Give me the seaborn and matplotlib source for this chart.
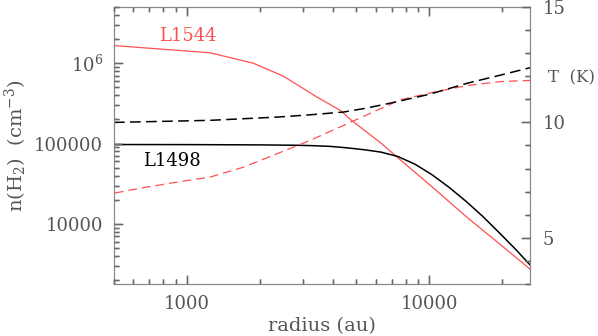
import numpy as np
import seaborn as sns
import matplotlib.pyplot as plt
from matplotlib.transforms import blended_transform_factory
from matplotlib.ticker import FixedLocator, NullFormatter, MultipleLocator, LogLocator

# density profiles n(H2) in cm^-3 vs radius in au
r_l1544 = [500, 1245, 1880, 2500, 3435, 4285, 4720, 6275, 7240, 10000, 14350, 20000, 26000]
n_l1544 = [1.66e6, 1.35e6, 1.0e6, 6.9e5, 3.8e5, 2.6e5, 2.0e5, 1.03e5, 7.1e4, 3.1e4, 1.2e4, 5.3e3, 2.75e3]

r_l1498 = [500, 1000, 2000, 2818, 3311, 3890, 4571, 5370, 6310, 7413, 8710, 10233,
           12023, 14125, 16596, 19498, 22909, 26000]
n_l1498 = [9.75e4, 9.73e4, 9.65e4, 9.55e4, 9.44e4, 9.25e4, 8.87e4, 8.41e4, 7.85e4, 6.92e4,
           5.56e4, 4.12e4, 2.88e4, 1.93e4, 1.245e4, 7.7e3, 4.7e3, 3.1e3]

# temperature profiles (K)
rT_l1498 = [500, 1245, 2350, 3220, 4425, 5500, 7000, 10000, 14350, 19630, 26000]
T_l1498 = [10.0, 10.09, 10.23, 10.33, 10.45, 10.62, 10.85, 11.22, 11.7, 12.05, 12.37]

rT_l1544 = [504, 659, 906, 1245, 1710, 2350, 3220, 4425, 6000, 7590, 10400, 14350, 19630, 26000]
T_l1544 = [6.94, 7.17, 7.41, 7.63, 8.06, 8.64, 9.22, 9.87, 10.5, 10.98, 11.31, 11.6, 11.77, 11.82]

sns.set_style("ticks")
plt.rcParams['font.family'] = ['DejaVu Serif']
plt.rcParams['mathtext.fontset'] = 'dejavuserif'

txt = '#555555'
tick_col = '#6a6a6a'
edge = '#8a8a8a'
red = '#ff5050'


def style_ticks(a):
    a.tick_params(which='both', direction='in', color=tick_col, width=1.0, length=6.5)
    a.tick_params(which='minor', length=3.5)
    a.tick_params(which='both', labelcolor=txt, labelsize=13)
    for s in a.spines.values():
        s.set_color(edge)


fig = plt.figure(figsize=(5.98, 3.36), dpi=100)
ax = fig.add_axes([0.1906, 0.155, 0.6957, 0.824])

sns.lineplot(x=r_l1544, y=n_l1544, ax=ax, color=red, lw=0.9)
sns.lineplot(x=r_l1498, y=n_l1498, ax=ax, color='black', lw=1.1)
ax.set_xscale('log')
ax.set_yscale('log')
ax.set_xlim(500, 26000)
ax.set_ylim(1800, 5e6)
style_ticks(ax)
ax.tick_params(axis='x', which='both', top=True, pad=8)
ax.tick_params(axis='y', pad=8)

ax.yaxis.set_major_locator(FixedLocator([1e4, 1e5, 1e6]))
ax.yaxis.set_minor_locator(LogLocator(base=10, subs=np.arange(2, 10), numticks=20))
ax.set_yticklabels(['10000', '100000', '10$^6$'])
ax.xaxis.set_major_locator(FixedLocator([1000, 10000]))
ax.xaxis.set_minor_locator(LogLocator(base=10, subs=np.arange(2, 10), numticks=20))
ax.set_xticklabels(['1000', '10000'])
ax.xaxis.set_minor_formatter(NullFormatter())
ax.yaxis.set_minor_formatter(NullFormatter())

ax2 = ax.twinx()
sns.lineplot(x=rT_l1544, y=T_l1544, ax=ax2, color=red, lw=0.9,
             linestyle=(0, (7, 4)))
sns.lineplot(x=rT_l1498, y=T_l1498, ax=ax2, color='black', lw=1.1,
             linestyle=(0, (7, 3.5)))
ax2.set_xlim(500, 26000)
ax2.set_ylim(3, 15)
style_ticks(ax2)
ax2.tick_params(axis='y', pad=9)
ax2.yaxis.set_major_locator(FixedLocator([5, 10, 15]))
ax2.yaxis.set_minor_locator(MultipleLocator(1))
ax2.set_ylabel('')

# tick marks also drawn as short segments on the top axes, at the locators' positions
maj_h, min_h = 0.03, 0.016   # fraction of axes height (x ticks)
maj_w, min_w = 0.02, 0.011   # fraction of axes width (y ticks)
seg = dict(color=tick_col, lw=1.0, zorder=10, clip_on=False)


def in_range(vals, lo, hi):
    return [v for v in vals if lo <= v <= hi]


xt = blended_transform_factory(ax.transData, ax2.transAxes)
xmaj = in_range(ax.xaxis.get_majorticklocs(), 500, 26000)
xmin = in_range(ax.xaxis.get_minorticklocs(), 500, 26000)
for locs, h in ((xmaj, maj_h), (xmin, min_h)):
    ax2.vlines(locs, 0, h, transform=xt, **seg)
    ax2.vlines(locs, 1 - h, 1, transform=xt, **seg)

yt = blended_transform_factory(ax2.transAxes, ax.transData)
ymaj = in_range(ax.yaxis.get_majorticklocs(), 1800, 5e6)
ymin = in_range(ax.yaxis.get_minorticklocs(), 1800, 5e6)
ax2.hlines(ymaj, 0, maj_w, transform=yt, **seg)
ax2.hlines(ymin, 0, min_w, transform=yt, **seg)

yt2 = blended_transform_factory(ax2.transAxes, ax2.transData)
tmaj = in_range(ax2.yaxis.get_majorticklocs(), 3, 15)
tmin = in_range(ax2.yaxis.get_minorticklocs(), 3, 15)
ax2.hlines(tmaj, 1 - maj_w, 1, transform=yt2, **seg)
ax2.hlines(tmin, 1 - min_w, 1, transform=yt2, **seg)
ax2.set_xlim(500, 26000)
ax2.set_ylim(3, 15)

ax.set_xlabel('radius (au)', fontsize=14, color=txt, labelpad=3)
ax.set_ylabel('n(H$_2$)  (cm$^{-3}$)', fontsize=14, color=txt)
ax.yaxis.set_label_coords(-0.205, 0.5)
ax2.text(1.044, 0.7455, 'T  (K)', transform=ax2.transAxes, fontsize=12, color=txt,
         va='center', ha='left')

ax.text(1010, 2.2e6, 'L1544', color=red, fontsize=13, ha='center', va='center')
ax.text(863, 6.0e4, 'L1498', color='black', fontsize=13, ha='center', va='center')

fig.savefig('out.png', dpi=100)
